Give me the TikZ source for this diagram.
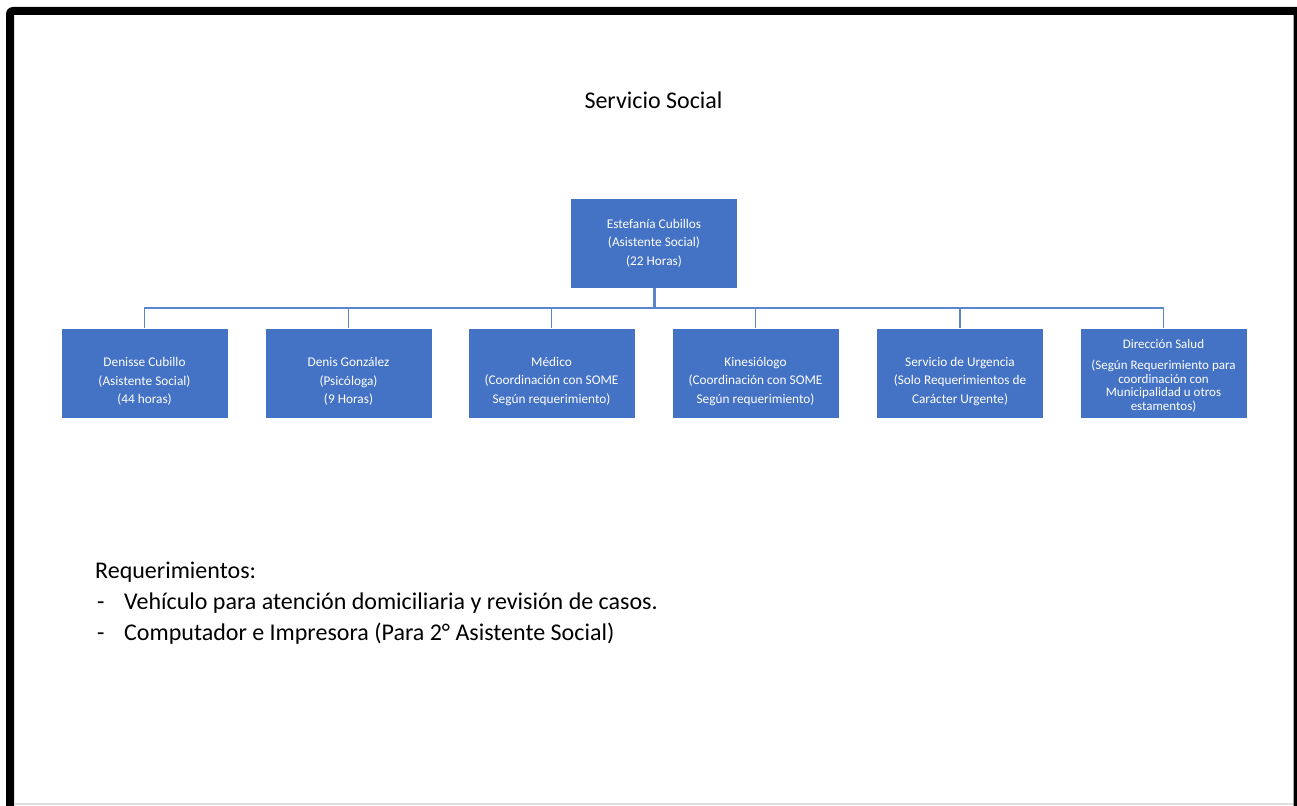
\documentclass[tikz,border=0pt]{standalone}
\usepackage{fontspec}
\setmainfont{Carlito}
\definecolor{boxblue}{HTML}{4472C4}
\definecolor{lineblue}{HTML}{5B86CC}
\newcommand\lowstrut{\rule{0pt}{26pt}}
\begin{document}
\begin{tikzpicture}[x=1pt,y=-1pt,
  orgbox/.style={fill=boxblue, draw=white, line width=0.8pt, minimum width=167pt, minimum height=90pt,
    text=white, align=center, inner sep=1pt, font=\fontsize{13.3}{18.5}\selectfont},
  conn/.style={draw=lineblue, line width=1.6pt},
  reqtext/.style={anchor=base west, inner sep=0pt, font=\fontsize{24}{28}\selectfont}]
\useasboundingbox (0,0) rectangle (1297,805);
\clip (0,0) rectangle (1297,805);
% frame
\fill[even odd rule] (6,820) -- (6,14) arc[start angle=180, end angle=270, radius=7] -- (1305,7) -- (1305,820) -- cycle
  (14,15) rectangle (1293.6,820);
\draw[black!12, line width=1.5pt] (14,804.2) -- (1293,804.2);
% title
\node[anchor=base, inner sep=0pt, font=\fontsize{24}{28}\selectfont] (title) at (653.5,109) {Servicio Social};
% top box
\node[orgbox] (top) at (654,243) {Estefanía Cubillos\\(Asistente Social)\\(22 Horas)};
\coordinate (bus) at (654,308);
% children
\node[orgbox] (c1) at (144.5,373) {\lowstrut Denisse Cubillo\\(Asistente Social)\\(44 horas)};
\node[orgbox] (c2) at (348.5,373) {\lowstrut Denis González\\(Psicóloga)\\(9 Horas)};
\node[orgbox] (c3) at (551.5,373) {\lowstrut Médico\\(Coordinación con SOME\\Según requerimiento)};
\node[orgbox] (c4) at (755.5,373) {\lowstrut Kinesiólogo\\(Coordinación con SOME\\Según requerimiento)};
\node[orgbox] (c5) at (960,373) {\lowstrut Servicio de Urgencia\\(Solo Requerimientos de\\Carácter Urgente)};
\node[orgbox, font=\fontsize{13}{13.5}\selectfont] (c6) at (1163.5,373) {\rule{0pt}{14pt}Dirección Salud\\[8pt](Según Requerimiento para\\coordinación con\\Municipalidad u otros\\estamentos)};
% connectors
\draw[conn, line width=3pt] (top.south) -- (bus);
\foreach \c in {c1,c2,c3,c4,c5,c6}{
  \draw[conn] (\c.north) |- (bus);
}
% requirements
\node[reqtext] (req) at (95,578) {Requerimientos:};
\node[reqtext] (d1) at (97,609) {-};
\node[reqtext] (r1) at (124,609) {Vehículo para atención domiciliaria y revisión de casos.};
\node[reqtext] (d2) at (97,640) {-};
\node[reqtext] (r2) at (124,640) {Computador e Impresora (Para 2° Asistente Social)};
\end{tikzpicture}
\end{document}
